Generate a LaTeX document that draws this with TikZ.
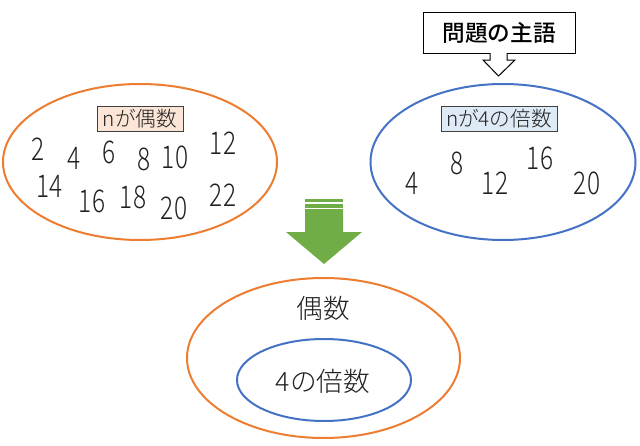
\documentclass[tikz,border=0pt]{standalone}
\usepackage{fontspec}
\setmainfont{Noto Sans CJK JP}
\newfontfamily\lightfont{Noto Sans CJK JP Light}
\newfontfamily\medfont{Noto Sans CJK JP Medium}
\newfontfamily\numfont[FakeStretch=0.78]{Noto Sans CJK JP Light}
\usetikzlibrary{shapes.geometric}
\definecolor{orng}{HTML}{ED7D31}
\definecolor{blu}{HTML}{4472C4}
\definecolor{grn}{HTML}{70AD47}
\definecolor{peach}{HTML}{FBE5D6}
\definecolor{lblue}{HTML}{DEEBF7}
\definecolor{txt}{HTML}{202020}
\tikzset{
  setell/.style={ellipse, draw, line width=1.5pt, inner sep=0pt},
  digit/.style={font=\numfont\fontsize{23.5pt}{23.5pt}\selectfont, inner sep=0pt, text=txt},
  lbl/.style={draw=black!75, line width=0.6pt, inner sep=0pt, minimum height=25*0.75pt,
    font=\lightfont\fontsize{15.5pt}{15.5pt}\selectfont, text=txt},
  big/.style={font=\lightfont\fontsize{20pt}{20pt}\selectfont, inner sep=0pt, text=txt}
}
\begin{document}
\begin{tikzpicture}[x=0.75pt,y=-0.75pt]
\useasboundingbox (0,0) rectangle (640,446);
% left set
\node[setell, draw=orng, minimum width=274*0.75pt, minimum height=156*0.75pt] (evenset) at (140,162) {};
\node[lbl, fill=peach, minimum width=86*0.75pt] (evenlbl) at (140,119) {nが偶数};
\node[digit] (e2) at (38,149) {2};
\node[digit] (e4) at (74,158) {4};
\node[digit] (e6) at (109,152) {6};
\node[digit] (e8) at (144,159) {8};
\node[digit] (e10) at (175,157) {10};
\node[digit] (e12) at (223,143) {12};
\node[digit] (e14) at (50,186) {14};
\node[digit] (e16) at (92,201) {16};
\node[digit] (e18) at (133,197) {18};
\node[digit] (e20) at (174,208) {20};
\node[digit] (e22) at (223,195) {22};
% right set
\node[setell, draw=blu, minimum width=265*0.75pt, minimum height=156*0.75pt] (fourset) at (503,162) {};
\node[lbl, fill=lblue, minimum width=116*0.75pt] (fourlbl) at (499,119) {nが4の倍数};
\node[digit] (f4) at (412,183) {4};
\node[digit] (f8) at (457,163) {8};
\node[digit] (f12) at (495,183) {12};
\node[digit] (f16) at (540,158) {16};
\node[digit] (f20) at (587,183) {20};
% callout
\node[draw, fill=white, line width=0.75pt, minimum width=152*0.75pt, minimum height=41*0.75pt,
  font=\medfont\fontsize{17pt}{17pt}\selectfont, inner sep=0pt] (subj) at (499,32.5) {問題の主語};
\fill[white] (490.8,51) rectangle (506.2,54.5);
\draw[fill=white, line width=0.75pt, line join=miter] (490,53) -- (490,60) -- (483,60) -- (498.5,76) -- (515,60) -- (507,60) -- (507,53);
% green arrow
\fill[grn] (305,199) rectangle (343,201.5);
\fill[grn] (305,203.5) rectangle (343,207.5);
\fill[grn] (305,209) -- (343,209) -- (343,232) -- (362,232) -- (324,264) -- (286,232) -- (305,232) -- cycle;
% bottom sets
\node[setell, draw=orng, minimum width=273*0.75pt, minimum height=160*0.75pt] (evenbig) at (323.5,358) {};
\node[big] (evenname) at (323,308) {偶数};
\node[setell, draw=blu, minimum width=174*0.75pt, minimum height=82*0.75pt] (fourbig) at (324,380) {};
\node[big] (fourname) at (323,381) {4の倍数};
\end{tikzpicture}
\end{document}
